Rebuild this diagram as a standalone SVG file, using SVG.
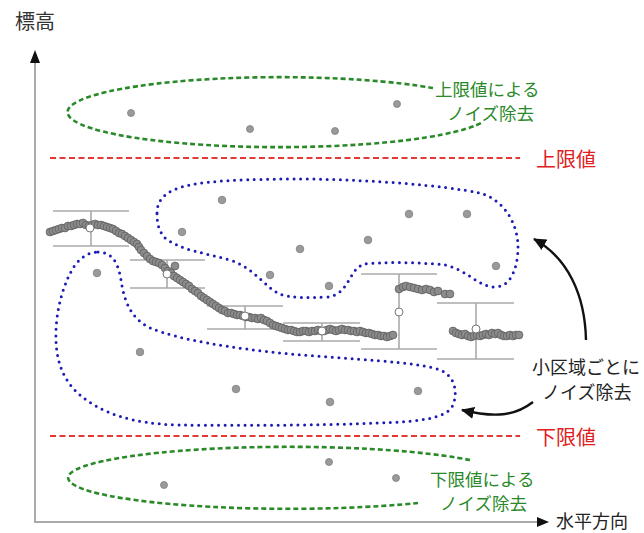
<svg xmlns="http://www.w3.org/2000/svg" width="644" height="533" viewBox="0 0 644 533">
<style>
.t{font-family:"Noto Sans CJK JP","Noto Sans",sans-serif}
.axis{stroke:#aaaaaa;stroke-width:2;fill:none}
.red{stroke:#e53935;stroke-width:2;stroke-dasharray:6 3.5;fill:none}
.green{stroke:#2a8a2a;stroke-width:2.6;stroke-dasharray:5 3;fill:none}
.blue{stroke:#1c1cb4;stroke-width:3;stroke-dasharray:0 6.6;stroke-linecap:round;fill:none}
.bar{stroke:#aaaaaa;stroke-width:1.6;fill:none}
.out{fill:#9a9a9a;stroke:#808080;stroke-width:0.8}
.mean{fill:#ffffff;stroke:#777777;stroke-width:1}
.series{fill:none;stroke:none;marker-start:url(#pt);marker-mid:url(#pt);marker-end:url(#pt)}
.curve{fill:none;stroke:#111;stroke-width:2.4}
</style>
<defs>
<marker id="pt" markerUnits="userSpaceOnUse" markerWidth="10" markerHeight="10" refX="5" refY="5" viewBox="0 0 10 10">
<circle cx="5" cy="5" r="3.9" fill="#8c8c8c" stroke="#5e5e5e" stroke-width="0.8"/>
</marker>
<marker id="ah" markerUnits="userSpaceOnUse" markerWidth="14" markerHeight="14" refX="12" refY="7" viewBox="0 0 14 14" orient="auto">
<path d="M0,1 L13,7 L0,13 Z" fill="#111"/>
</marker>
</defs>

<g id="axes">
<polyline class="axis" points="35,60 35,522 540,522"/>
<path d="M35,50 L40,63 L30,63 Z" fill="#111"/>
<path d="M549,522 L537,517 L537,527 Z" fill="#111"/>
<text class="t" x="15" y="29" font-size="20" fill="#333">標高</text>
<text class="t" x="556" y="528" font-size="18" fill="#222">水平方向</text>
</g>

<g id="upper-limit">
<line class="red" x1="50" y1="158" x2="520" y2="158"/>
<text class="t" x="536" y="167" font-size="20" fill="#e02020">上限値</text>
</g>
<g id="lower-limit">
<line class="red" x1="50" y1="436" x2="520" y2="436"/>
<text class="t" x="536" y="445" font-size="20" fill="#e02020">下限値</text>
</g>

<g id="upper-noise">
<path class="green" d="M433,88 A212 35 0 1 0 483,122"/>
<circle class="out" cx="131" cy="113" r="3.5"/>
<circle class="out" cx="250" cy="129" r="3.5"/>
<circle class="out" cx="335" cy="131" r="3.5"/>
<circle class="out" cx="397" cy="104" r="3.5"/>
<text class="t" x="435" y="96" font-size="17.5" fill="#2a8a2a">上限値による</text>
<text class="t" x="447" y="120" font-size="17.5" fill="#2a8a2a">ノイズ除去</text>
</g>

<g id="lower-noise">
<path class="green" d="M470,460 A221 31 0 1 0 418,503"/>
<circle class="out" cx="164" cy="485" r="3.5"/>
<circle class="out" cx="329" cy="462" r="3.5"/>
<circle class="out" cx="396" cy="478" r="3.5"/>
<text class="t" x="430" y="486" font-size="17.5" fill="#2a8a2a">下限値による</text>
<text class="t" x="440" y="510" font-size="17.5" fill="#2a8a2a">ノイズ除去</text>
</g>

<g id="upper-local">
<path class="blue" d="M157,213 C157,200 165,190 190,185 C210,181 240,179 307,179 C373,180 440,185 480,193 C505,200 518,225 518,247 C518,265 512,287 495,287 C478,287 468,270 445,265 C420,262 380,262 365,264 C348,268 350,295 327,297 C305,298 290,298 280,294 C265,288 255,268 230,260 C205,253 180,250 165,238 C158,230 157,222 157,213 Z"/>
<circle class="out" cx="222" cy="200" r="3.8"/>
<circle class="out" cx="182" cy="232" r="3.8"/>
<circle class="out" cx="300" cy="249" r="3.8"/>
<circle class="out" cx="270" cy="275" r="3.8"/>
<circle class="out" cx="329" cy="286" r="3.8"/>
<circle class="out" cx="368" cy="240" r="3.8"/>
<circle class="out" cx="409" cy="214" r="3.8"/>
<circle class="out" cx="467" cy="214" r="3.8"/>
<circle class="out" cx="496" cy="266" r="3.8"/>
</g>

<g id="lower-local">
<path class="blue" d="M98,252 C112,252 118,262 121,280 C124,300 130,318 150,328 C180,340 230,348 290,354 C350,359 420,362 440,370 C455,376 458,392 453,405 C448,416 430,420 400,422 C350,425 250,426 180,425 C130,424 100,412 80,395 C60,378 55,355 56,330 C57,305 65,280 75,265 C82,256 90,252 98,252 Z"/>
<circle class="out" cx="97" cy="273" r="3.8"/>
<circle class="out" cx="140" cy="352" r="3.8"/>
<circle class="out" cx="236" cy="389" r="3.8"/>
<circle class="out" cx="330" cy="402" r="3.8"/>
<circle class="out" cx="418" cy="391" r="3.8"/>
</g>

<g id="error-bars">
<path class="bar" d="M53,211 H129 M53,246 H129 M91,211 V246"/>
<path class="bar" d="M130,260 H205 M130,288 H205 M167,260 V288"/>
<path class="bar" d="M207,306 H283 M207,329 H283 M245,306 V329"/>
<path class="bar" d="M283,323 H360 M283,341 H360 M322,323 V341"/>
<path class="bar" d="M361,274 H437 M361,349 H437 M399,274 V349"/>
<path class="bar" d="M437,303 H514 M437,359 H514 M476,303 V359"/>
</g>

<g id="data">
<polyline class="series" points="50,232 53,231 56,230 59,229 62,228 65,228 68,226 71,226 74,225 77,224 80,224 83,223 86,225 89,226 92,225 95,224 98,225 101,225 104,226 107,227 110,228 113,229 116,231 119,233 122,234 125,236 128,238 131,240 134,242 137,244 139,247 141,250 144,253 147,256 150,259 153,261 156,262 159,263 162,265 165,268 168,271 171,273 174,276 177,278 180,280 183,282 186,284 189,286 192,289 195,291 198,293 201,296 204,298 207,300 210,302 213,304 216,306 219,308 222,310 225,311 228,313 231,313 234,314 237,315 240,315 243,316 246,317 249,317 252,318 255,318 258,319 261,318 264,320 267,321 270,323 273,325 276,326 279,327 282,328 285,329 288,330 291,330 294,331 297,332 300,332 303,331 306,331 309,332 312,331 315,331 318,330 321,331 324,331 327,330 330,329 333,330 336,331 339,330 342,329 345,330 348,330 351,331 354,331 357,332 360,331 363,332 366,333 369,333 372,334 375,335 378,335 381,336 384,336 387,337 390,336 393,335"/>
<polyline class="series" points="399,289 403,287 406,286 410,287 414,288 418,289 422,290 426,289 430,290 434,292 438,291 445,294 450,294"/>
<polyline class="series" points="453,331 456,333 459,334 462,335 465,334 468,336 471,337 474,336 477,335 480,336 483,335 486,334 489,335 492,333 495,334 498,333 501,335 504,336 507,336 510,335 513,336 516,335 519,335"/>
<circle cx="175" cy="266" r="3.9" fill="#8c8c8c" stroke="#5e5e5e" stroke-width="0.8"/>
<circle class="mean" cx="90" cy="228" r="4"/>
<circle class="mean" cx="167" cy="274" r="4"/>
<circle class="mean" cx="245" cy="316" r="4"/>
<circle class="mean" cx="322" cy="331" r="4"/>
<circle class="mean" cx="399" cy="312" r="4"/>
<circle class="mean" cx="476" cy="329" r="4"/>
</g>

<g id="local-label">
<text class="t" x="532" y="374" font-size="18" fill="#222">小区域ごとに</text>
<text class="t" x="542" y="399" font-size="18" fill="#222">ノイズ除去</text>
</g>

<g id="connectors">
<path class="curve" d="M586,340 C585,295 568,258 534,239" marker-end="url(#ah)"/>
<path class="curve" d="M533,402 C515,416 495,418 462,410" marker-end="url(#ah)"/>
</g>
</svg>
